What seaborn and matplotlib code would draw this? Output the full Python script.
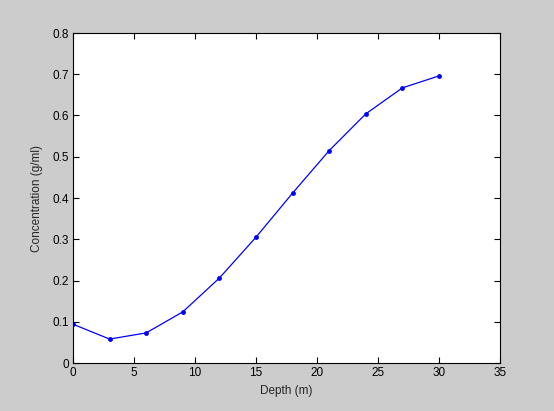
import matplotlib
matplotlib.use("Agg")
import matplotlib.pyplot as plt
import seaborn as sns
import pandas as pd

depth = [0, 3, 6, 9, 12, 15, 18, 21, 24, 27, 30]
conc = [0.094, 0.058, 0.073, 0.124, 0.206, 0.305, 0.412, 0.515, 0.604, 0.667, 0.696]

df = pd.DataFrame({"depth": depth, "conc": conc})

sns.set_style("white")
plt.rcParams["font.family"] = ["Liberation Sans", "DejaVu Sans"]

fig = plt.figure(figsize=(5.54, 4.11), dpi=100, facecolor="#cccccc")
ax = fig.add_axes([73 / 554, 48 / 411, 427 / 554, 330 / 411])
ax.set_facecolor("white")

sns.lineplot(data=df, x="depth", y="conc", ax=ax, color="#0000ff",
             linewidth=0.9, marker="o", markersize=3.5, markeredgewidth=0)

ax.set_xlim(0, 35)
ax.set_ylim(0, 0.8)
ax.set_xticks(range(0, 36, 5))
ax.set_yticks([i / 10 for i in range(9)])
ax.set_yticklabels(["0"] + [f"{i / 10:.1f}" for i in range(1, 9)])
ax.tick_params(direction="in", length=4, width=0.8, labelsize=8.5, colors="black",
               top=True, right=True, bottom=True, left=True, pad=3)
for s in ax.spines.values():
    s.set_color("black")
    s.set_linewidth(0.8)
    s.set_visible(True)
ax.set_xlabel("Depth (m)", fontsize=8.5, labelpad=4)
ax.set_ylabel("Concentration (g/ml)", fontsize=8.5, labelpad=7)

fig.savefig("out.png", dpi=100, facecolor=fig.get_facecolor())
